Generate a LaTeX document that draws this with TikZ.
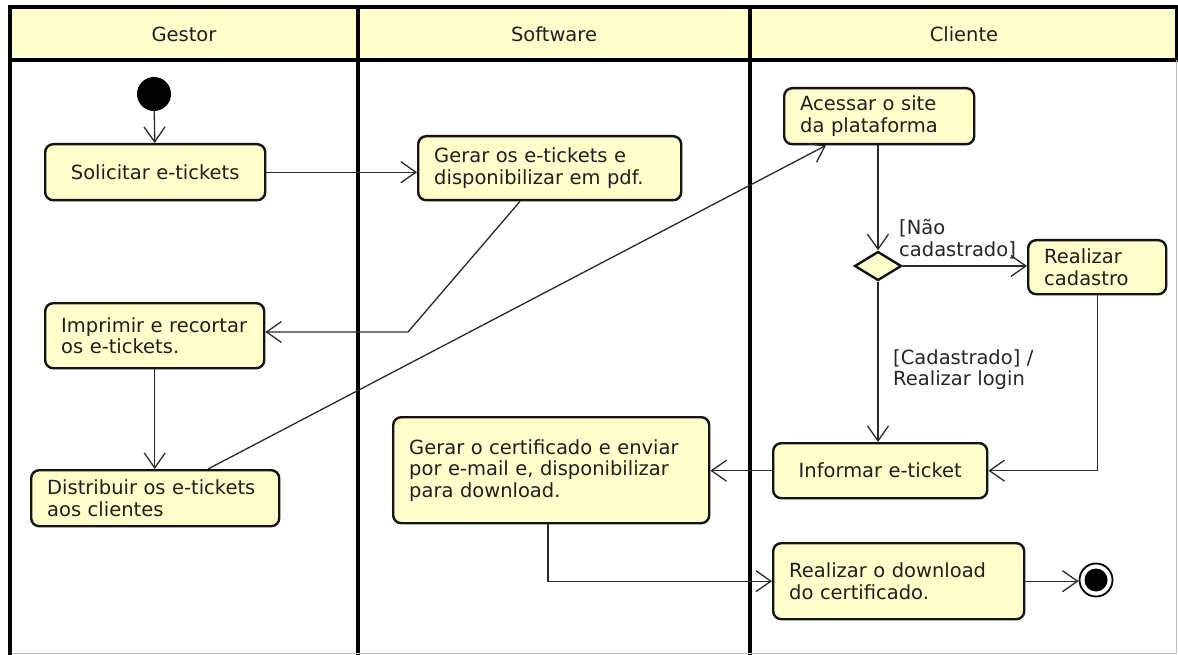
\documentclass[tikz,border=0pt]{standalone}
\usepackage{fontspec}
\setmainfont{DejaVu Sans}
\usetikzlibrary{arrows.meta,shapes.geometric}
\definecolor{actfill}{HTML}{FFFFCC}
\definecolor{headfill}{HTML}{FFFFCC}
\definecolor{edge}{HTML}{2A2A2A}
\newcommand\umlfont{\fontsize{19.5}{21.5}\selectfont}
\tikzset{
  act/.style={draw=black!92, line width=2.4pt, rounded corners=8pt, fill=actfill,
    font=\umlfont, text=black!88, inner xsep=16pt, inner ysep=0pt, align=left, anchor=north west},
  flow/.style={draw=edge, line width=1.3pt,
    -{Straight Barb[length=15pt,width=21pt,line width=1.3pt]}},
  lane/.style={line width=3.4pt, black},
  guard/.style={font=\umlfont, inner sep=0pt, align=left, anchor=base west, text=black!85},
}
\begin{document}
\begin{tikzpicture}[x=1pt,y=-1pt]
\useasboundingbox (0,0) rectangle (1178,655);
\fill[white] (0,0) rectangle (1178,655);

% swimlanes
\draw[lane, fill=headfill] (10,7) rectangle (1177,60);
\draw[lane] (10,7) -- (10,655);
\draw[lane] (358,7) -- (358,655);
\draw[lane] (750,7) -- (750,655);
\draw[black!25, line width=1pt] (1176,60) -- (1176,653) -- (12,653);
\node[font=\umlfont, text=black!88] (hg) at (184,34) {Gestor};
\node[font=\umlfont, text=black!88] (hs) at (554,34) {Software};
\node[font=\umlfont, text=black!88] (hc) at (964,34) {Cliente};

% start / end
\node[circle, fill=black, minimum size=34pt, inner sep=0pt] (ini) at (154,94) {};
\node[circle, draw=black, line width=1.8pt, fill=white, minimum size=33pt, inner sep=0pt] (fin) at (1096,580) {};
\fill[black] (fin) circle (11.5pt);

% actions
\node[act, align=center, minimum width=220pt, minimum height=56pt, text width=188pt] (sol) at (44,143) {Solicitar e-tickets};
\node[act, minimum width=263pt, minimum height=64pt, text width=231pt] (gen) at (417,135) {Gerar os e-tickets e\\disponibilizar em pdf.};
\node[act, minimum width=219pt, minimum height=65pt, text width=187pt] (imp) at (44,302) {Imprimir e recortar\\os e-tickets.};
\node[act, minimum width=248pt, minimum height=56pt, text width=216pt] (dis) at (30,469) {Distribuir os e-tickets\\aos clientes};
\node[act, minimum width=190pt, minimum height=56pt, text width=158pt] (acc) at (783,87) {Acessar o site\\da plataforma};
\node[diamond, draw=black!92, line width=2.4pt, fill=actfill, minimum width=47pt, minimum height=29pt, inner sep=0pt] (dec) at (878,266) {};
\node[act, minimum width=138pt, minimum height=54pt, text width=106pt] (cad) at (1027,239) {Realizar\\cadastro};
\node[act, align=center, minimum width=214pt, minimum height=55pt, text width=182pt] (inf) at (772,442) {Informar e-ticket};
\node[act, minimum width=316pt, minimum height=106pt, text width=284pt] (cert) at (392,416) {Gerar o certificado e enviar\\por e-mail e, disponibilizar\\para download.};
\node[act, minimum width=251pt, minimum height=76pt, text width=219pt] (dl) at (772,542) {Realizar o download\\do certificado.};

% bend points
\coordinate (k1) at (408,332);

% flows
\draw[flow] (ini) -- (sol);
\draw[flow] (sol.east) -- (sol.east -| gen.west);
\draw[flow] ([xshift=103pt]gen.south west) -- (k1) -- (k1 -| imp.east);
\draw[flow] (imp.south) -- (imp.south |- dis.north);
\draw[flow] ([xshift=178pt]dis.north west) -- ([xshift=43pt]acc.south west);
\draw[flow] (dec.north |- acc.south) -- (dec.north);
\draw[flow] (dec.east) -- (dec.east -| cad.west);
\draw[flow] (dec.south) -- (dec.south |- inf.north);
\draw[flow] (cad.south) |- (inf.east);
\draw[flow] (inf.west) -- (inf.west -| cert.east);
\draw[flow] ([xshift=156pt]cert.south west) |- (dl.west);
\draw[flow] (dl.east) -- (dl.east -| fin.west);

% guards
\node[guard, text width=130pt] (g1) at (899,235) {[Não\\cadastrado]};
\node[guard, text width=160pt] (g2) at (893,364) {[Cadastrado] /\\Realizar login};
\end{tikzpicture}
\end{document}
